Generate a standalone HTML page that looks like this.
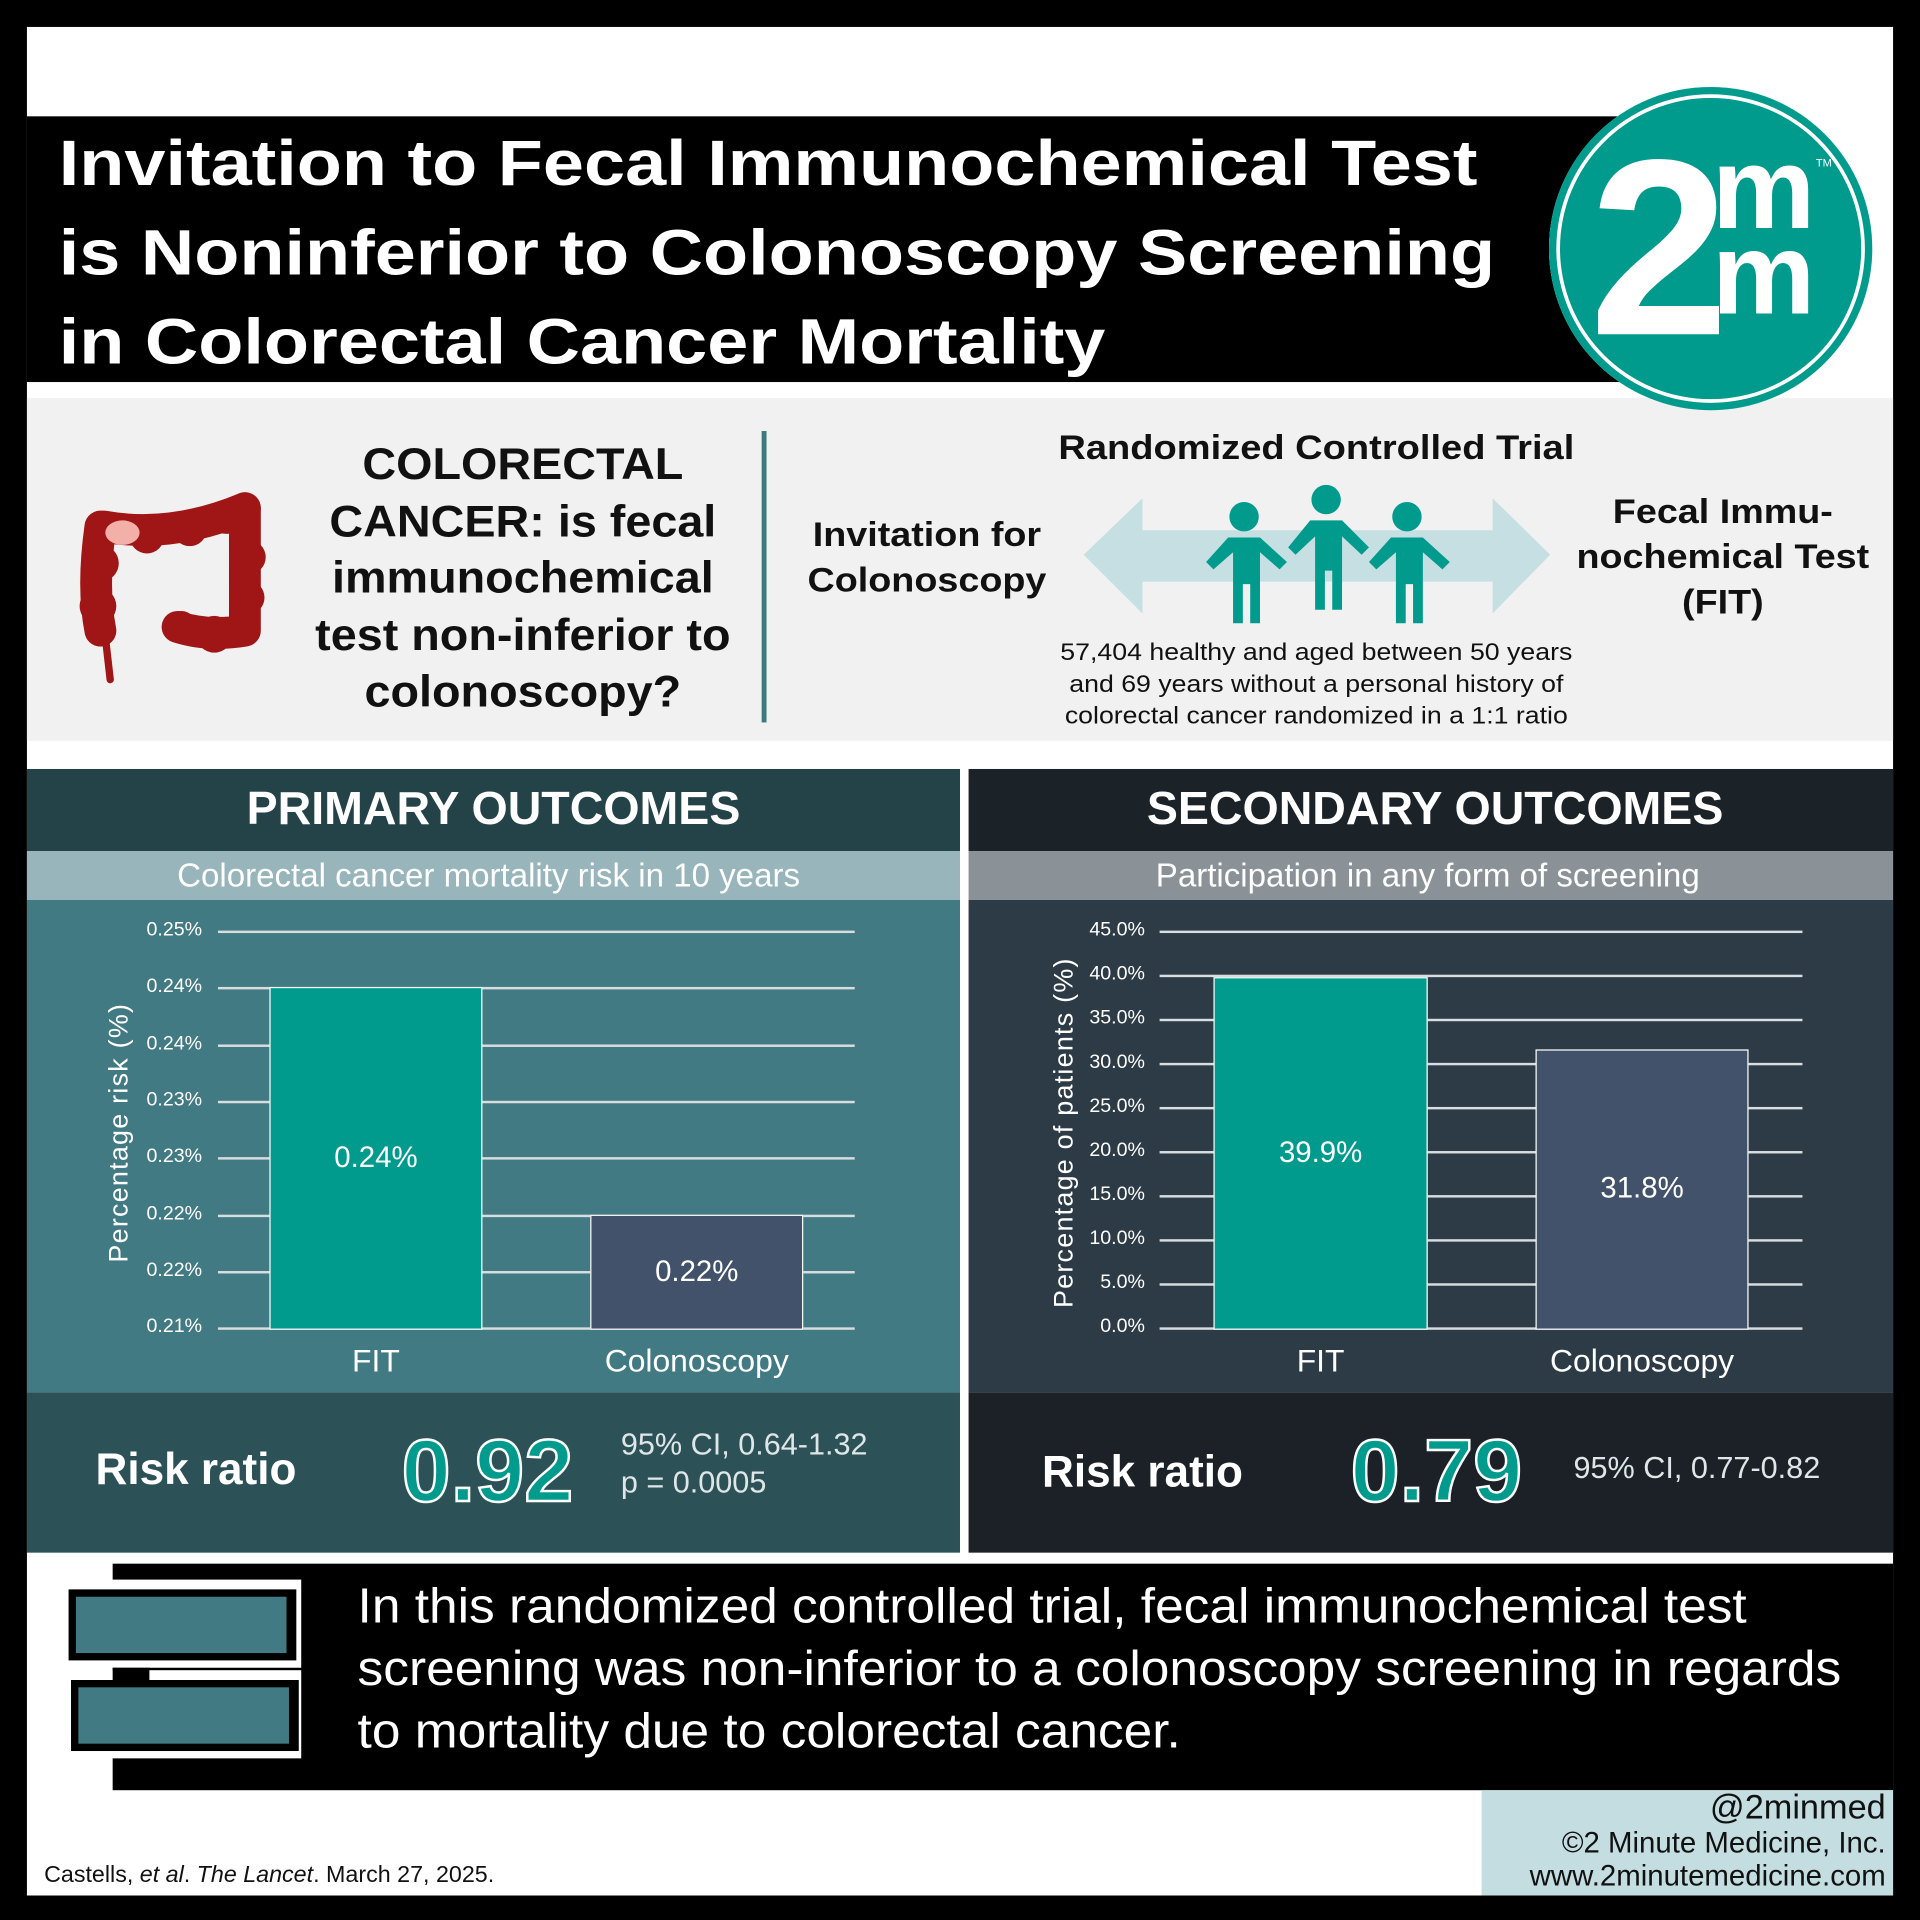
<!DOCTYPE html>
<html><head><meta charset="utf-8"><style>
html,body{margin:0;padding:0;background:#000;}
body{width:1920px;height:1920px;overflow:hidden;}
#s{position:absolute;left:0;top:0;width:1568px;height:1568px;transform:scale(1.2244898);transform-origin:0 0;background:#000;font-family:"Liberation Sans",sans-serif;}
.a{position:absolute;}
.c{text-align:center;}
.t{color:#fff;}
.gl{position:absolute;height:2px;background:#d8dde0;}
.yl{position:absolute;font-size:16px;color:#fff;text-align:right;width:60px;}
</style></head><body><div id="s">
<div class="a" style="left:22px;top:22px;width:1524px;height:1526px;background:#fff"></div>
<div class="a" style="left:22px;top:95px;width:1330px;height:217px;background:#000"></div>
<div class="a t" style="left:48px;top:98px;font-size:52px;font-weight:bold;line-height:73px;white-space:nowrap;transform:scaleX(1.16);transform-origin:0 0">Invitation to Fecal Immunochemical Test<br>is Noninferior to Colonoscopy Screening<br>in Colorectal Cancer Mortality</div>
<div class="a" style="left:22px;top:325px;width:1524px;height:280px;background:#f1f1f1"></div>
<div class="a" style="left:1265px;top:71px;width:264px;height:264px;border-radius:50%;background:#009b8d;box-shadow:inset 0 0 0 6px #009b8d, inset 0 0 0 9px #fff"></div>
<div class="a t" style="left:1298px;top:88px;font-size:205px;font-weight:bold;line-height:230px">2</div>
<div class="a t" style="left:1398px;top:108px;font-size:95px;font-weight:bold;line-height:92px">m</div>
<div class="a t" style="left:1398px;top:178px;font-size:95px;font-weight:bold;line-height:92px">m</div>
<div class="a" style="left:1483px;top:128px;font-size:9px;color:#fff">TM</div>
<svg class="a" style="left:60px;top:400px" width="165" height="165" viewBox="0 0 165 165">
<g fill="none" stroke="#a01515" stroke-linecap="round" stroke-linejoin="round">
<path d="M22 30 Q18 80 26 120 L30 155" stroke-width="6"/>
<path d="M22 30 Q15 80 22 115" stroke-width="26"/>
<path d="M25 30 Q80 40 140 15 L140 115 Q110 120 85 112" stroke-width="26"/>
</g>
<g fill="#a01515"><circle cx="22" cy="60" r="15"/><circle cx="20" cy="95" r="15"/><circle cx="60" cy="38" r="14"/><circle cx="95" cy="32" r="14"/><circle cx="125" cy="22" r="14"/><circle cx="143" cy="55" r="14"/><circle cx="142" cy="88" r="14"/><circle cx="115" cy="118" r="15"/><circle cx="88" cy="112" r="13"/><circle cx="140" cy="15" r="13"/></g>
<ellipse cx="40" cy="35" rx="14" ry="10" fill="#f2b0a8"/></svg>
<div class="a c" style="left:232px;top:356px;width:390px;font-size:36px;font-weight:bold;line-height:46.5px;color:#111;transform:scaleX(1.06)">COLORECTAL<br>CANCER: is fecal<br>immunochemical<br>test non-inferior to<br>colonoscopy?</div>
<div class="a" style="left:622px;top:352px;width:4px;height:238px;background:#3d7a7d"></div>
<div class="a c" style="left:840px;top:350px;width:470px;font-size:28px;font-weight:bold;color:#111;transform:scaleX(1.11)">Randomized Controlled Trial</div>
<div class="a c" style="left:640px;top:418px;width:234px;font-size:28px;font-weight:bold;line-height:37px;color:#111;transform:scaleX(1.1)">Invitation for<br>Colonoscopy</div>
<div class="a c" style="left:1278px;top:399px;width:258px;font-size:28px;font-weight:bold;line-height:37px;color:#111;transform:scaleX(1.1)">Fecal Immu-<br>nochemical Test<br>(FIT)</div>
<svg class="a" style="left:885px;top:395px" width="382" height="120"><polygon points="0,58 48,12 48,38 334,38 334,12 381,58 334,106 334,80 48,80 48,106" fill="#c5dfe2"/>
<g fill="#009b8d">
<circle cx="131" cy="27" r="12"/><path d="M118 44 h26 l22 20 -6 6 -16 -14 v58 h-8 v-32 h-6 v32 h-8 v-58 l-16 14 -6 -6z"/>
<circle cx="198" cy="13" r="12"/><path d="M185 30 h26 l22 22 -6 6 -16 -15 v60 h-8 v-32 h-6 v32 h-8 v-60 l-16 15 -6 -6z"/>
<circle cx="264" cy="27" r="12"/><path d="M251 44 h26 l22 20 -6 6 -16 -14 v58 h-8 v-32 h-6 v32 h-8 v-58 l-16 14 -6 -6z"/></g></svg>
<div class="a c" style="left:840px;top:520px;width:470px;font-size:20px;line-height:26px;color:#111;transform:scaleX(1.09)">57,404 healthy and aged between 50 years<br>and 69 years without a personal history of<br>colorectal cancer randomized in a 1:1 ratio</div>

<!-- primary -->
<div class="a" style="left:22px;top:628px;width:762px;height:67px;background:#244349"></div>
<div class="a" style="left:22px;top:695px;width:762px;height:40px;background:#97b5ba"></div>
<div class="a" style="left:22px;top:735px;width:762px;height:402px;background:#417a82"></div>
<div class="a" style="left:22px;top:1137px;width:762px;height:131px;background:#2c5258"></div>
<div class="a c t" style="left:22px;top:640px;width:762px;font-size:38px;font-weight:bold">PRIMARY OUTCOMES</div>
<div class="a c t" style="left:22px;top:700px;width:754px;font-size:27px">Colorectal cancer mortality risk in 10 years</div>
<div class="gl" style="left:178px;top:760px;width:520px"></div>
<div class="gl" style="left:178px;top:806px;width:520px"></div>
<div class="gl" style="left:178px;top:853px;width:520px"></div>
<div class="gl" style="left:178px;top:899px;width:520px"></div>
<div class="gl" style="left:178px;top:945px;width:520px"></div>
<div class="gl" style="left:178px;top:992px;width:520px"></div>
<div class="gl" style="left:178px;top:1038px;width:520px"></div>
<div class="gl" style="left:178px;top:1084px;width:520px"></div>
<div class="yl" style="left:105px;top:751px">0.25%</div>
<div class="yl" style="left:105px;top:797px">0.24%</div>
<div class="yl" style="left:105px;top:844px">0.24%</div>
<div class="yl" style="left:105px;top:890px">0.23%</div>
<div class="yl" style="left:105px;top:936px">0.23%</div>
<div class="yl" style="left:105px;top:983px">0.22%</div>
<div class="yl" style="left:105px;top:1029px">0.22%</div>
<div class="yl" style="left:105px;top:1075px">0.21%</div>
<div class="a t" style="left:97px;top:925px;font-size:22px;transform:translate(-50%,-50%) rotate(-90deg);white-space:nowrap;letter-spacing:1px">Percentage risk (%)</div>
<div class="a" style="left:220px;top:806px;width:172px;height:278px;background:#009b8d;border:1px solid #fff"></div>
<div class="a" style="left:482px;top:992px;width:172px;height:92px;background:#42526b;border:1px solid #fff"></div>
<div class="a c t" style="left:220px;top:932px;width:174px;font-size:24px">0.24%</div>
<div class="a c t" style="left:482px;top:1025px;width:174px;font-size:24px">0.22%</div>
<div class="a c t" style="left:220px;top:1096px;width:174px;font-size:26px">FIT</div>
<div class="a c t" style="left:462px;top:1096px;width:214px;font-size:26px">Colonoscopy</div>
<div class="a t" style="left:78px;top:1179px;font-size:36px;font-weight:bold">Risk ratio</div>
<div class="a" style="left:328px;top:1161px;font-size:72px;font-weight:bold;color:#009b8d;-webkit-text-stroke:2px #fff">0.92</div>
<div class="a" style="left:507px;top:1165px;font-size:25px;line-height:31px;color:#dfe6e8">95% CI, 0.64-1.32<br>p = 0.0005</div>

<!-- secondary -->
<div class="a" style="left:791px;top:628px;width:755px;height:67px;background:#1c2328"></div>
<div class="a" style="left:791px;top:695px;width:755px;height:40px;background:#8b9297"></div>
<div class="a" style="left:791px;top:735px;width:755px;height:402px;background:#2d3b46"></div>
<div class="a" style="left:791px;top:1137px;width:755px;height:131px;background:#1b2127"></div>
<div class="a c t" style="left:791px;top:640px;width:762px;font-size:38px;font-weight:bold">SECONDARY OUTCOMES</div>
<div class="a c t" style="left:791px;top:700px;width:750px;font-size:27px">Participation in any form of screening</div>
<div class="gl" style="left:947px;top:760px;width:525px"></div>
<div class="gl" style="left:947px;top:796px;width:525px"></div>
<div class="gl" style="left:947px;top:832px;width:525px"></div>
<div class="gl" style="left:947px;top:868px;width:525px"></div>
<div class="gl" style="left:947px;top:904px;width:525px"></div>
<div class="gl" style="left:947px;top:940px;width:525px"></div>
<div class="gl" style="left:947px;top:976px;width:525px"></div>
<div class="gl" style="left:947px;top:1012px;width:525px"></div>
<div class="gl" style="left:947px;top:1048px;width:525px"></div>
<div class="gl" style="left:947px;top:1084px;width:525px"></div>
<div class="yl" style="left:875px;top:751px">45.0%</div>
<div class="yl" style="left:875px;top:787px">40.0%</div>
<div class="yl" style="left:875px;top:823px">35.0%</div>
<div class="yl" style="left:875px;top:859px">30.0%</div>
<div class="yl" style="left:875px;top:895px">25.0%</div>
<div class="yl" style="left:875px;top:931px">20.0%</div>
<div class="yl" style="left:875px;top:967px">15.0%</div>
<div class="yl" style="left:875px;top:1003px">10.0%</div>
<div class="yl" style="left:875px;top:1039px">5.0%</div>
<div class="yl" style="left:875px;top:1075px">0.0%</div>
<div class="a t" style="left:869px;top:925px;font-size:22px;transform:translate(-50%,-50%) rotate(-90deg);white-space:nowrap;letter-spacing:1px">Percentage of patients (%)</div>
<div class="a" style="left:991px;top:798px;width:173px;height:286px;background:#009b8d;border:1px solid #fff"></div>
<div class="a" style="left:1254px;top:857px;width:172px;height:227px;background:#42526b;border:1px solid #fff"></div>
<div class="a c t" style="left:991px;top:928px;width:175px;font-size:24px">39.9%</div>
<div class="a c t" style="left:1254px;top:957px;width:174px;font-size:24px">31.8%</div>
<div class="a c t" style="left:991px;top:1096px;width:175px;font-size:26px">FIT</div>
<div class="a c t" style="left:1233px;top:1096px;width:216px;font-size:26px">Colonoscopy</div>
<div class="a t" style="left:851px;top:1181px;font-size:36px;font-weight:bold">Risk ratio</div>
<div class="a" style="left:1103px;top:1161px;font-size:72px;font-weight:bold;color:#009b8d;-webkit-text-stroke:2px #fff">0.79</div>
<div class="a" style="left:1285px;top:1185px;font-size:25px;color:#dfe6e8">95% CI, 0.77-0.82</div>

<!-- bottom -->
<div class="a" style="left:92px;top:1277px;width:1454px;height:185px;background:#000"></div>
<div class="a" style="left:50px;top:1290px;width:196px;height:72px;background:#fff"></div>
<div class="a" style="left:50px;top:1364px;width:196px;height:72px;background:#fff"></div>
<div class="a" style="left:92px;top:1362px;width:30px;height:10px;background:#000"></div>
<div class="a" style="left:56px;top:1298px;width:186px;height:58px;background:#000"></div>
<div class="a" style="left:62px;top:1304px;width:172px;height:46px;background:#417a82"></div>
<div class="a" style="left:58px;top:1372px;width:186px;height:58px;background:#000"></div>
<div class="a" style="left:64px;top:1378px;width:172px;height:46px;background:#417a82"></div>
<div class="a t" style="left:292px;top:1287px;font-size:40px;line-height:51px;white-space:nowrap;transform:scaleX(1.05);transform-origin:0 0">In this randomized controlled trial, fecal immunochemical test<br>screening was non-inferior to a colonoscopy screening in regards<br>to mortality due to colorectal cancer.</div>
<div class="a" style="left:1210px;top:1462px;width:336px;height:86px;background:#c3dde1"></div>
<div class="a" style="left:1200px;top:1460px;width:340px;text-align:right;font-size:28px;color:#111">@2minmed</div>
<div class="a" style="left:1200px;top:1492px;width:340px;text-align:right;font-size:24px;line-height:27px;color:#111">©2 Minute Medicine, Inc.<br>www.2minutemedicine.com</div>
<div class="a" style="left:36px;top:1521px;font-size:19px;color:#111">Castells, <i>et al</i>. <i>The Lancet</i>. March 27, 2025.</div>
</div></body></html>
